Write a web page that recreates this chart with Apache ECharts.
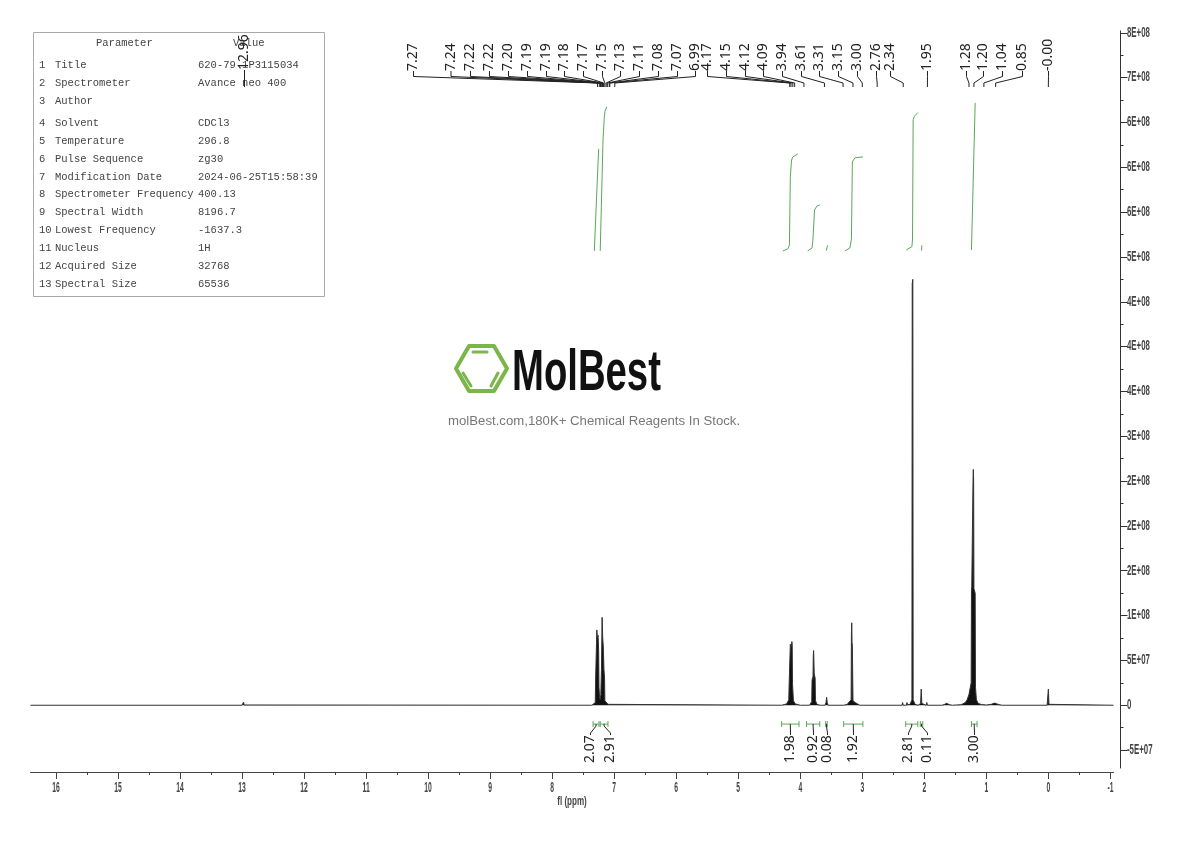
<!DOCTYPE html>
<html>
<head>
<meta charset="utf-8">
<style>html,body{margin:0;background:#fff}#chart{width:1190px;height:841px}</style>
<script src="https://cdn.jsdelivr.net/npm/echarts@6/dist/echarts.min.js"></script>
</head>
<body>
<div id="chart"></div>
<script>
// spectrum trace
const spectrumPpm = [16.41,13.0,12.985,12.975,12.965,12.95,
  7.36,7.33,7.305,7.30,7.295,7.285,7.28,7.27,7.26,7.25,7.245,7.235,7.225,7.215,7.205,7.195,7.185,7.175,7.165,7.155,7.15,7.10,7.07,
  4.30,4.22,4.185,4.18,4.175,4.165,4.16,4.155,4.145,4.135,4.13,4.125,4.115,4.11,4.08,4.0,
  3.85,3.815,3.81,3.80,3.795,3.79,3.785,3.78,3.775,3.765,3.76,3.755,3.73,3.68,
  3.60,3.585,3.575,3.565,3.55,3.47,3.46,3.45,
  3.30,3.24,3.215,3.20,3.18,3.175,3.17,3.165,3.16,3.155,3.15,3.115,3.09,3.04,
  2.36,2.35,2.34,2.29,2.28,2.27,2.23,2.20,2.195,2.185,2.18,2.15,2.10,
  2.07,2.06,2.05,2.04,2.02,1.97,1.96,1.95,
  1.72,1.68,1.64,1.60,1.55,1.48,1.45,1.42,1.38,1.34,1.31,1.28,1.26,1.245,1.24,1.235,1.22,1.215,1.21,1.205,1.20,1.185,1.18,1.175,1.16,1.13,1.08,1.0,
  0.92,0.87,0.84,0.80,0.75,0.02,0.01,0.0,-0.01,-0.02,-1.05];
const spectrumIntensity = [0,0,3e5,3.5e6,3e5,0,
  0,8e5,3e6,2.6e7,2.8e7,7e7,8.4e7,7.5e7,7.8e7,6e7,2e7,9e6,6e6,1.2e7,4e7,9.8e7,7.5e7,6.5e7,4e7,3e7,5e6,1e6,0,
  0,1.5e6,6e6,2.2e7,2.4e7,2.4e7,6.8e7,7e7,6.5e7,7.1e7,6.8e7,2.4e7,2.4e7,5e6,1.5e6,0,
  0,4e6,2.8e7,3.1e7,2.8e7,5.5e7,6.1e7,5e7,3.5e7,3.6e7,3e7,5e6,1e6,0,
  0,3e6,8.9e6,3e6,0,0,1e6,0,
  0,1e6,3.5e6,2e6,6e6,8e7,9.2e7,7e7,6.7e7,6.7e7,5e6,3e6,1e6,0,
  0,3e6,0,0,3e6,5e5,1e6,6e6,4.7e8,4.75e8,6e6,1e6,0,
  0,2e6,1.8e7,2e6,0,0,3e6,0,
  0,7e5,2.2e6,7e5,0,3e5,1e6,5e5,1.5e6,3e6,6e6,1.2e7,1e7,2.5e7,1.28e8,1.32e8,1.3e8,2.5e8,2.63e8,2.5e8,1.3e8,1.32e8,1.25e8,2e7,6e6,2e6,8e5,3e5,
  1e6,2.4e6,2.2e6,8e5,0,0,1e6,1.8e7,1e6,0,0];

// integral curves, [ppm, height]
const integralA = [[7.32,5.067e8],[7.285,5.65e8],[7.25,6.205e8]];
const integralB = [[7.225,5.067e8],[7.18,6.3e8],[7.16,6.55e8],[7.15,6.62e8],[7.12,6.674e8]];
const integralC = [[4.28,5.067e8],[4.2,5.09e8],[4.175,5.134e8],[4.16,5.9e8],[4.14,6.08e8],[4.12,6.116e8],[4.04,6.149e8]];
const integralD = [[3.88,5.067e8],[3.81,5.1e8],[3.795,5.2e8],[3.77,5.524e8],[3.73,5.569e8],[3.685,5.58e8]];
const integralE = [[3.58,5.07e8],[3.56,5.13e8]];
const integralF = [[3.28,5.067e8],[3.2,5.1e8],[3.175,5.2e8],[3.16,6.06e8],[3.12,6.105e8],[2.99,6.116e8]];
const integralG = [[2.29,5.078e8],[2.2,5.115e8],[2.19,5.2e8],[2.18,6.53e8],[2.16,6.57e8],[2.105,6.61e8]];
const integralH = [[2.045,5.07e8],[2.04,5.13e8]];
const integralI = [[1.24,5.078e8],[1.18,6.718e8]];

// integral brackets under the baseline
const bracketStart = [7.34,7.225,4.30,3.90,3.59,3.30,2.30,2.065,1.24];
const bracketEnd = [7.245,7.10,4.02,3.685,3.565,2.99,2.105,2.025,1.15];
const bracketValues = ['2.07','2.91','1.98','0.92','0.08','1.92','2.81','0.11','3.00'];

// peak picks
const peakLabels = ['12.96','7.27','7.24','7.22','7.22','7.20','7.19','7.19','7.18','7.17','7.15','7.13','7.11','7.08','7.07','6.99',
  '4.17','4.15','4.12','4.09','3.94','3.61','3.31','3.15','3.00','2.76','2.34','1.95','1.28','1.20','1.04','0.85','-0.00'];

// axes
const xMajorTicks = [16,15,14,13,12,11,10,9,8,7,6,5,4,3,2,1,0,-1];
const xMinorTicks = [15.5,14.5,13.5,12.5,11.5,10.5,9.5,8.5,7.5,6.5,5.5,4.5,3.5,2.5,1.5,0.5,-0.5];
const yTickValues = [7.5e8,7e8,6.5e8,6e8,5.5e8,5e8,4.5e8,4e8,3.5e8,3e8,2.5e8,2e8,1.5e8,1e8,5e7,0,-5e7];
const yTickLabels = ['8E+08','7E+08','6E+08','6E+08','6E+08','5E+08','4E+08','4E+08','4E+08','3E+08','2E+08','2E+08','2E+08','1E+08','5E+07','0','-5E+07'];
const yMinorTicks = [7.25e8,6.75e8,6.25e8,5.75e8,5.25e8,4.75e8,4.25e8,3.75e8,3.25e8,2.75e8,2.25e8,1.75e8,1.25e8,7.5e7,2.5e7,-2.5e7];

// parameter table
const paramNames = ['Title','Spectrometer','Author','Solvent','Temperature','Pulse Sequence','Modification Date','Spectrometer Frequency','Spectral Width','Lowest Frequency','Nucleus','Acquired Size','Spectral Size'];
const paramValues = ['620-79-1P3115034','Avance neo 400','','CDCl3','296.8','zg30','2024-06-25T15:58:39','400.13','8196.7','-1637.3','1H','32768','65536'];

// layout only
const peakLabelX = [244.5,413.5,451,470.5,489.5,508.5,527.5,546.5,564.5,583.5,602.5,620.5,639.5,658.5,677.5,695.5,707.5,726.5,745.5,763.5,782.5,801.5,819.5,838.5,857.5,876.5,890.5,927.5,966.5,983.5,1002.5,1022.5,1048.5];
const bracketLabelX = [590.5,610.5,790.5,813.5,827.5,853.5,908.5,927.5,974.5];
const tableRowY = [65,83,101,123,141,159,177,194,212,230,248,266,284];
const bracketLevel = -2.1e7;
const sans = '"Liberation Sans",sans-serif';
const mono = '"Liberation Mono",monospace';
const pickFont = '14px "Noto Sans",sans-serif';
const ink = '#222';
const green = '#58a858';

function tableGraphics() {
  const out = [{type:'rect', shape:{x:33.5,y:32.5,width:291,height:264}, style:{fill:'#fff',stroke:'#aaa',lineWidth:1}}];
  const txt = (t, x, y) => ({type:'text', x, y, style:{text:t, font:'10.5px '+mono, fill:'#444', align:'left', verticalAlign:'middle'}});
  out.push(txt('Parameter',96,43), txt('Value',233,43));
  paramNames.forEach((n, i) => {
    out.push(txt(String(i+1),39,tableRowY[i]), txt(n,55,tableRowY[i]));
    if (paramValues[i]) out.push(txt(paramValues[i],198,tableRowY[i]));
  });
  return out;
}

function logoGraphics() {
  const lime = '#7ab648';
  const bar = (x1,y1,x2,y2) => ({type:'line', shape:{x1,y1,x2,y2}, style:{stroke:lime,lineWidth:3,lineCap:'round'}});
  return [
    {type:'polygon', shape:{points:[[456,368.5],[469,346],[494,346],[507,368.5],[494,391],[469,391]]}, style:{fill:'none',stroke:lime,lineWidth:4,lineJoin:'round'}},
    bar(473,352,487,352), bar(463,373,471,386), bar(491,386,498,373),
    {type:'text', x:512, y:403, scaleX:0.66, style:{text:'MolBest', font:'bold 58px '+sans, fill:'#111', align:'left', verticalAlign:'bottom'}},
    {type:'text', x:448, y:421, style:{text:'molBest.com,180K+ Chemical Reagents In Stock.', font:'13.2px '+sans, fill:'#777', align:'left', verticalAlign:'middle'}},
    {type:'text', x:572, y:801, scaleX:0.62, style:{text:'fl (ppm)', font:'bold 13px '+sans, fill:'#444', align:'center', verticalAlign:'middle'}}
  ];
}

// peak labels and their leader lines, foot of the leader sits on the ppm scale
function renderPeak(params, api) {
  const i = api.value(0);
  const footX = api.coord([parseFloat(peakLabels[i]), 0])[0];
  const labelX = peakLabelX[i];
  const base = i === 0 ? 70 : 71;
  return {type:'group', children:[
    {type:'polyline', shape:{points:[[labelX,base],[labelX,i === 0 ? 83 : 76.5],[footX,83],[footX,87]]}, style:{stroke:ink,fill:'none',lineWidth:1}},
    {type:'text', x:labelX, y:base, rotation:Math.PI/2, style:{text:peakLabels[i], font:pickFont, fill:'#222', align:'left', verticalAlign:'middle'}}
  ]};
}

// integral brackets and their rotated values
function renderBracket(params, api) {
  const i = api.value(0);
  const a = api.coord([bracketStart[i], bracketLevel]);
  const b = api.coord([bracketEnd[i], bracketLevel]);
  const mid = (a[0]+b[0])/2;
  const lx = bracketLabelX[i];
  const gl = () => ({stroke:green, lineWidth:1, fill:'none'});
  return {type:'group', children:[
    {type:'line', shape:{x1:a[0],y1:a[1],x2:b[0],y2:b[1]}, style:gl()},
    {type:'line', shape:{x1:a[0],y1:a[1]-3,x2:a[0],y2:a[1]+3}, style:gl()},
    {type:'line', shape:{x1:b[0],y1:b[1]-3,x2:b[0],y2:b[1]+3}, style:gl()},
    {type:'polyline', shape:{points:[[mid,a[1]],[mid,a[1]+2],[lx,a[1]+9],[lx,a[1]+11]]}, style:{stroke:ink,fill:'none',lineWidth:1}},
    {type:'text', x:lx, y:763, rotation:Math.PI/2, style:{text:bracketValues[i], font:pickFont, fill:'#222', align:'left', verticalAlign:'middle'}}
  ]};
}

// tick labels sit on the axis scales, drawn here because the condensed look needs scaleX
function renderXLabel(params, api) {
  const v = api.value(0);
  return {type:'text', x:api.coord([v, 0])[0], y:788, scaleX:0.45, style:{text:String(v), font:'bold 15px '+sans, fill:'#444', align:'center', verticalAlign:'middle'}};
}
function renderYLabel(params, api) {
  const i = api.value(0);
  return {type:'text', x:1127, y:api.coord([0, yTickValues[i]])[1], scaleX:0.56, style:{text:yTickLabels[i], font:'bold 14px '+sans, fill:'#444', align:'left', verticalAlign:'middle'}};
}

const xBase = {type:'value', inverse:true, min:-1.05, max:16.41, position:'bottom', offset:4, splitLine:{show:false}, axisLabel:{show:false}};
const yBase = {type:'value', min:-7e7, max:7.52e8, position:'right', offset:7, splitLine:{show:false}, axisLabel:{show:false}};

const chart = echarts.init(document.getElementById('chart'));
chart.setOption({
  animation:false,
  backgroundColor:'#fff',
  graphic:{elements:[...tableGraphics(), ...logoGraphics()]},
  grid:{left:30.5, right:76.5, top:31, bottom:73},
  xAxis:[
    {...xBase, axisLine:{onZero:false,lineStyle:{color:'#444',width:1}},
      axisTick:{length:7,lineStyle:{color:'#444'},customValues:xMajorTicks}},
    {...xBase, axisLine:{show:false,onZero:false},
      axisTick:{length:3,lineStyle:{color:'#444'},customValues:xMinorTicks}}
  ],
  yAxis:[
    {...yBase, axisLine:{onZero:false,lineStyle:{color:'#333',width:1}},
      axisTick:{length:7,lineStyle:{color:'#333'},customValues:yTickValues}},
    {...yBase, axisLine:{show:false,onZero:false},
      axisTick:{length:3,lineStyle:{color:'#333'},customValues:yMinorTicks}}
  ],
  series:[
    {type:'line', name:'spectrum', showSymbol:false, sampling:'none', lineStyle:{color:'#333',width:1},
      areaStyle:{color:'#111',opacity:1},
      data:spectrumPpm.map((p,i) => [p, spectrumIntensity[i]])},
    ...[integralA,integralB,integralC,integralD,integralE,integralF,integralG,integralH,integralI].map(curve => ({
      type:'line', showSymbol:false, lineStyle:{color:green,width:1}, data:curve
    })),
    {type:'custom', renderItem:renderPeak, silent:true, clip:false, data:peakLabels.map((l,i) => [i])},
    {type:'custom', renderItem:renderBracket, silent:true, clip:false, data:bracketValues.map((l,i) => [i])},
    {type:'custom', renderItem:renderXLabel, silent:true, clip:false, data:xMajorTicks.map(v => [v])},
    {type:'custom', renderItem:renderYLabel, silent:true, clip:false, data:yTickValues.map((v,i) => [i])}
  ]
});
window.onresize = () => chart.resize();
</script>
</body>
</html>
